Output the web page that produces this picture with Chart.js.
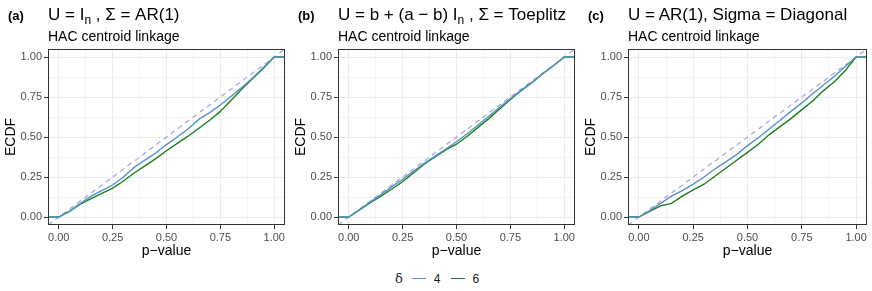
<!DOCTYPE html>
<html>
<head>
<meta charset="utf-8">
<script src="https://cdn.jsdelivr.net/npm/chart.js@4.4.1/dist/chart.umd.min.js"></script>
<style>
  body { margin: 0; background: #fff; width: 872px; height: 291px; overflow: hidden; position: relative;
         font-family: "Liberation Sans", Arial, sans-serif; }
  .panel { position: absolute; top: 0; height: 262px; }
  .tag { position: absolute; left: 8px; top: 9px; font-size: 13px; line-height: 13px; font-weight: bold; color: #000; }
  .title { position: absolute; left: 48px; top: 6px; font-size: 17px; line-height: 17px; color: #000; white-space: nowrap; }
  .title sub { font-size: 12px; vertical-align: -4px; line-height: 0; }
  .sub { position: absolute; left: 48px; top: 29px; font-size: 14px; line-height: 14px; color: #000; white-space: nowrap; }
  canvas { position: absolute; left: 0; top: 0; }
  #legend { position: absolute; top: 270px; left: 395px; height: 16px; font-size: 12px; line-height: 16px; color: #1a1a1a; white-space: nowrap; }
  #legend span { display: inline-block; vertical-align: middle; }
  #legend .sym { font-family: "DejaVu Serif", serif; font-size: 13px; margin-right: 9px; }
  #legend .key { width: 14px; height: 0; border-top: 1.3px solid; margin-right: 8px; }
  #legend .lab { margin-right: 10px; }
</style>
</head>
<body>
<div id="wrap"></div>
<div id="legend"></div>
<script>
// x grid of the ECDF traces (p-value), padded to the panel edges
const pValues = [-0.05, 0, 0.05, 0.1, 0.15, 0.2, 0.25, 0.3, 0.35, 0.4, 0.45, 0.5,
                 0.55, 0.6, 0.65, 0.7, 0.75, 0.8, 0.85, 0.9, 0.95, 1, 1.05];

// (a) U = I_n, Sigma = AR(1)
const ecdfA4 = [0, 0, 0.035, 0.085, 0.13, 0.165, 0.2, 0.25, 0.31, 0.355, 0.4, 0.452,
                0.5, 0.55, 0.61, 0.652, 0.7, 0.755, 0.81, 0.87, 0.935, 1, 1];
const ecdfA6 = [0, 0, 0.035, 0.08, 0.115, 0.148, 0.18, 0.225, 0.275, 0.32, 0.365, 0.414,
                0.46, 0.505, 0.555, 0.605, 0.66, 0.73, 0.8, 0.865, 0.93, 1, 1];
// (b) Toeplitz
const ecdfB4 = [0, 0, 0.045, 0.095, 0.14, 0.19, 0.235, 0.285, 0.335, 0.38, 0.425, 0.47,
                0.52, 0.575, 0.63, 0.685, 0.74, 0.79, 0.84, 0.895, 0.945, 1, 1];
const ecdfB6 = [0, 0, 0.045, 0.09, 0.13, 0.175, 0.22, 0.275, 0.33, 0.375, 0.42, 0.455,
                0.505, 0.56, 0.615, 0.675, 0.735, 0.79, 0.84, 0.895, 0.945, 1, 1];
// (c) Diagonal
const ecdfC4 = [0, 0, 0.04, 0.085, 0.13, 0.165, 0.205, 0.25, 0.3, 0.345, 0.39, 0.446,
                0.495, 0.55, 0.605, 0.66, 0.713, 0.77, 0.825, 0.88, 0.94, 1, 1];
const ecdfC6 = [0, 0, 0.035, 0.07, 0.085, 0.13, 0.17, 0.205, 0.255, 0.305, 0.355, 0.404,
                0.455, 0.515, 0.565, 0.615, 0.671, 0.725, 0.79, 0.845, 0.915, 1, 1];

// reference line y = x
const diagX = [-0.05, 1.05];
const diagY = [-0.05, 1.05];

const majorTicks = [0, 0.25, 0.5, 0.75, 1];
const minorTicks = [0.125, 0.375, 0.625, 0.875];

const deltas = ["4", "6"];
const colors = ["#5592c8", "#1b7f1b"];
const diagColor = "#a8a2dc";

const panels = [
  { left: 0,   width: 290, tag: "(a)", title: 'U = I<sub>n</sub> , \u03a3 = AR(1)', series: [ecdfA4, ecdfA6] },
  { left: 290, width: 290, tag: "(b)", title: 'U = b + (a \u2212 b) I<sub>n</sub> , \u03a3 = Toeplitz', series: [ecdfB4, ecdfB6] },
  { left: 580, width: 292, tag: "(c)", title: 'U = AR(1), Sigma = Diagonal', series: [ecdfC4, ecdfC6] }
];

const isMajor = v => majorTicks.some(m => Math.abs(m - v) < 1e-9);

const panelBorder = {
  id: "panelBorder",
  afterDraw(chart) {
    const a = chart.chartArea;
    const ctx = chart.ctx;
    ctx.save();
    ctx.strokeStyle = "#333333";
    ctx.lineWidth = 1;
    ctx.strokeRect(a.left + 0.5, a.top + 0.5, a.right - a.left - 1, a.bottom - a.top - 1);
    ctx.restore();
  }
};

function axis(title, isX) {
  return {
    type: "linear",
    min: -0.05,
    max: 1.05,
    border: { display: false },
    afterBuildTicks: s => { s.ticks = majorTicks.concat(minorTicks).sort((a, b) => a - b).map(v => ({ value: v })); },
    afterFit: s => { if (isX) s.height = 37; else s.width = 48; },
    grid: {
      color: c => isMajor(c.tick.value) ? "#ebebeb" : "#f4f4f4",
      lineWidth: 1,
      tickColor: c => isMajor(c.tick.value) ? "#333333" : "rgba(0,0,0,0)",
      tickLength: 4
    },
    ticks: {
      autoSkip: false,
      maxRotation: 0,
      padding: isX ? 2 : 2,
      color: "#4d4d4d",
      font: { family: "'Liberation Sans', Arial, sans-serif", size: 11 },
      callback: v => isMajor(v) ? v.toFixed(2) : ""
    },
    title: {
      display: true,
      text: title,
      color: "#000",
      padding: isX ? { top: 0, bottom: 2 } : { top: 3, bottom: 0 },
      font: { family: "'Liberation Sans', Arial, sans-serif", size: 14 }
    }
  };
}

const wrap = document.getElementById("wrap");
panels.forEach(p => {
  const div = document.createElement("div");
  div.className = "panel";
  div.style.left = p.left + "px";
  div.style.width = p.width + "px";
  div.innerHTML = '<canvas width="' + p.width + '" height="262"></canvas>' +
    '<div class="tag">' + p.tag + '</div>' +
    '<div class="title">' + p.title + '</div>' +
    '<div class="sub">HAC centroid linkage</div>';
  wrap.appendChild(div);

  const datasets = p.series.map((s, i) => ({
    label: deltas[i],
    data: pValues.map((x, k) => ({ x: x, y: s[k] })),
    borderColor: colors[i],
    borderWidth: 1.4,
    pointRadius: 0,
    showLine: true,
    tension: 0
  }));
  datasets.push({
    label: "diag",
    data: diagX.map((x, k) => ({ x: x, y: diagY[k] })),
    borderColor: diagColor,
    borderWidth: 1.2,
    borderDash: [5, 4],
    pointRadius: 0,
    showLine: true
  });

  new Chart(div.querySelector("canvas").getContext("2d"), {
    type: "scatter",
    data: { datasets: datasets },
    options: {
      responsive: false,
      animation: false,
      layout: { padding: { top: 49, right: p.width - 285 - (p.width - 290), left: 0, bottom: 0 } },
      plugins: { legend: { display: false }, tooltip: { enabled: false } },
      scales: { x: axis("p\u2212value", true), y: axis("ECDF", false) }
    },
    plugins: [panelBorder]
  });
});

// shared legend
const legend = document.getElementById("legend");
let html = '<span class="sym">\u03b4</span>';
deltas.forEach((d, i) => {
  html += '<span class="key" style="border-color:' + colors[i] + '"></span><span class="lab">' + d + '</span>';
});
legend.innerHTML = html;
</script>
</body>
</html>
